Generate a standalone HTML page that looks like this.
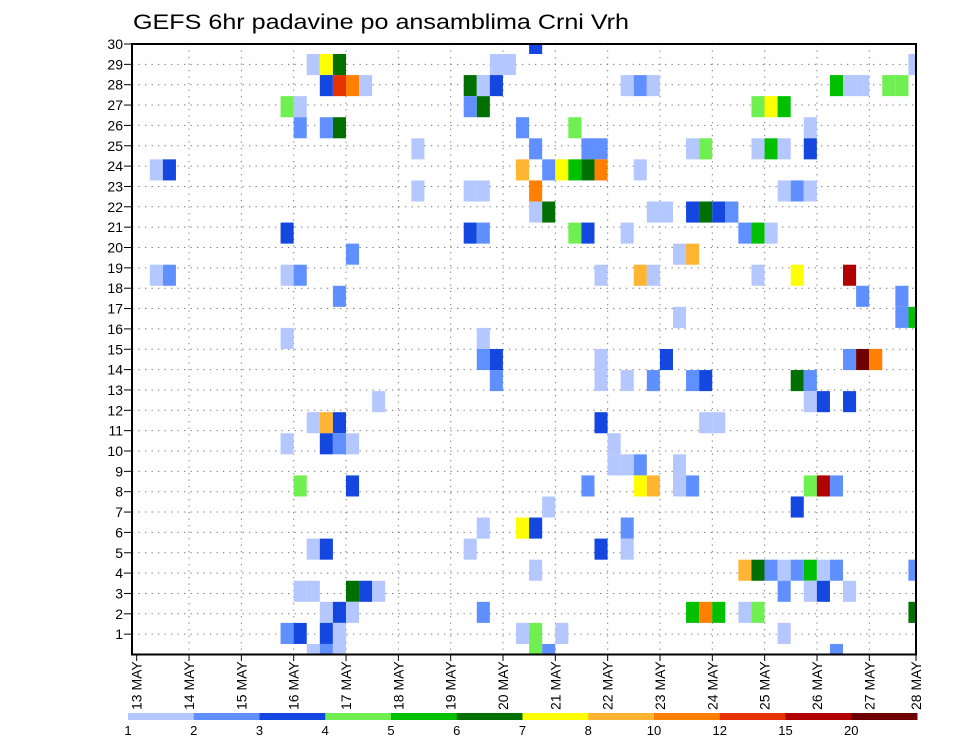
<!DOCTYPE html>
<html><head><meta charset="utf-8"><style>
html,body{margin:0;padding:0;background:#fff;}
svg{display:block;font-family:"Liberation Sans",sans-serif;}
</style></head><body>
<svg id="chart" width="960" height="742" viewBox="0 0 960 742" xmlns="http://www.w3.org/2000/svg">
<defs><clipPath id="plotclip"><rect x="132" y="44" width="784" height="610.5"/></clipPath></defs>
<text x="133" y="29" font-size="21" textLength="496" lengthAdjust="spacingAndGlyphs" fill="#000">GEFS 6hr padavine po ansamblima Crni Vrh</text>
<g id="grid"></g>
<g id="cells" clip-path="url(#plotclip)"></g>
<rect x="132" y="44" width="784" height="610.5" fill="none" stroke="#000" stroke-width="2"/>
<g id="yaxis"></g>
<g id="xaxis"></g>
<g id="legend"></g>
</svg>
<script>
// ---- data ----
const dayLabels = ["13","14","15","16","17","18","19","20","21","22","23","24","25","26","27","28"];
const yTicks = [1,2,3,4,5,6,7,8,9,10,11,12,13,14,15,16,17,18,19,20,21,22,23,24,25,26,27,28,29,30];
const levelColors = ["#b4c8ff","#6090ff","#1446e0","#70f050","#00c000","#007000","#ffff00","#ffb432","#ff8000","#e63200","#b00000","#6e0000"];
const legendLabels = ["1","2","3","4","5","6","7","8","10","12","15","20"];
const memberIds = [29,28,27,26,25,24,23,22,21,20,19,18,17,16,15,14,13,12,11,10,9,8,7,6,5,4,3,2,1,0];
const cellCols = [
 [30],
 [13,14,15,27,28,59],
 [14,15,16,17,25,26,27,37,38,39,53,54,55,57,58],
 [11,12,25,26,47,48,49],
 [12,14,15,29,33,51],
 [21,30,34,35,42,43,47,48,49,51],
 [1,2,29,31,32,33,34,35,38],
 [21,25,26,30,49,50,51],
 [30,31,39,40,42,43,44,45],
 [11,25,26,33,34,37,46,47,48],
 [16,41,42],
 [1,2,11,12,35,38,39,47,50,54],
 [15,55,58],
 [41,58,59],
 [11,26],
 [26,27,35,40,54,55,56],
 [27,35,37,39,42,43,50,51],
 [18,51,52,54],
 [13,14,15,35,43,44],
 [11,14,15,16,36],
 [36,37,38,41],
 [12,16,34,38,39,41,42,51,52,53],
 [31,50],
 [26,29,30,37],
 [13,14,25,35,37],
 [30,46,47,48,49,50,51,52,53,59],
 [12,13,16,17,18,49,51,52,54],
 [14,15,16,26,42,43,44,46,47,59],
 [11,12,14,15,29,30,32,49],
 [13,14,15,30,31,53]
];
const cellLevels = [
 [3],
 [1,7,6,1,1,1],
 [3,10,9,1,6,1,3,1,2,1,5,1,1,4,4],
 [4,1,2,6,4,7,5],
 [2,2,6,2,4,1],
 [1,2,2,2,1,4,1,5,1,3],
 [1,3,8,2,7,5,6,9,1],
 [1,1,1,9,1,2,1],
 [1,6,1,1,3,6,3,2],
 [3,3,2,4,3,1,2,5,1],
 [2,1,8],
 [1,2,1,2,1,8,1,1,7,11],
 [2,2,2],
 [1,2,5],
 [1,1],
 [2,3,1,3,2,12,9],
 [2,1,1,2,2,3,6,2],
 [1,1,3,3],
 [1,8,3,3,1,1],
 [1,3,2,1,1],
 [1,1,2,1],
 [4,3,2,7,8,1,2,4,11,2],
 [1,3],
 [1,7,3,2],
 [1,3,1,3,1],
 [1,8,6,2,1,2,5,1,2,2],
 [1,1,6,3,1,2,1,3,1],
 [1,3,1,2,5,9,5,1,4,6],
 [2,3,3,1,1,4,1,1],
 [1,2,1,4,2,2]
];
// ---- scales ----
const NS = "http://www.w3.org/2000/svg";
const colX = j => 136.7 + j * 13.08;      // 6-hour step index -> left x
const colW = 13.08;
const memberY = k => 654.5 - k * 21.07;   // member index -> center y
const memberH = 21.07;
const tickY = v => 654.5 - v * 20.35;     // y-axis value -> y
const dayX = i => 136.7 + i * 52.33;      // day index -> x
function mk(tag, attrs, parent){const e=document.createElementNS(NS,tag);for(const a in attrs)e.setAttribute(a,attrs[a]);parent.appendChild(e);return e;}
const grid=document.getElementById('grid'), cells=document.getElementById('cells'),
 yaxis=document.getElementById('yaxis'), xaxis=document.getElementById('xaxis'), legend=document.getElementById('legend');
// grid
yTicks.forEach(v=>{
  if(v<30){const l=mk('line',{x1:132,x2:916,y1:tickY(v),y2:tickY(v),stroke:'#777','stroke-width':1,'stroke-dasharray':'1.3 5.2'},grid);
  
  }
  const t=mk('line',{x1:124,x2:132,y1:tickY(v),y2:tickY(v),stroke:'#000','stroke-width':1},yaxis);
  
  
  const tx=mk('text',{x:123,y:tickY(v)+5,'font-size':14,'text-anchor':'end',fill:'#000'},yaxis);
  tx.textContent=String(v);
  
  
});
dayLabels.forEach((d,i)=>{
  const x=Math.min(dayX(i),916);
  if(i>0&&i<15){const l=mk('line',{x1:x,x2:x,y1:44,y2:654,stroke:'#777','stroke-width':1,'stroke-dasharray':'1.3 5.2'},grid);
  
  }
  const t=mk('line',{x1:x,x2:x,y1:654,y2:661,stroke:'#000','stroke-width':1},xaxis);
  
  
  const tx=mk('text',{transform:'translate('+(x+5)+',710) rotate(-90)','font-size':14,fill:'#000'},xaxis);
  tx.textContent=d+' MAY';
  
  
});
// cells
memberIds.forEach((k,r)=>{
  cellCols[r].forEach((j,c)=>{
    const lev=cellLevels[r][c];
    const rc=mk('rect',{x:colX(j),y:memberY(k)-memberH/2,width:colW,height:memberH,fill:levelColors[lev-1]},cells);
    
    
  });
});
// legend
const lx0=128, lw=(917-128)/levelColors.length;
levelColors.forEach((c,i)=>{
  const r=mk('rect',{x:lx0+i*lw,y:713,width:lw+0.5,height:7,fill:c},legend);
  
  
  const t=mk('text',{x:lx0+i*lw,y:735,'font-size':13,'text-anchor':'middle',fill:'#000'},legend);
  t.textContent=legendLabels[i];
  
  
});
</script>
</body></html>
